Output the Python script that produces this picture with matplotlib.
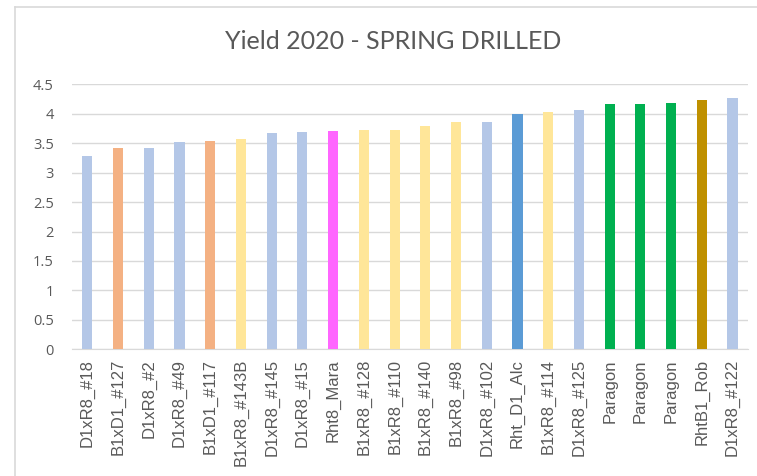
import matplotlib.pyplot as plt
from matplotlib.lines import Line2D

# lines and bar colours
lines = ["D1xR8_#18", "B1xD1_#127", "D1xR8_#2", "D1xR8_#49", "B1xD1_#117",
         "B1xR8_#143B", "D1xR8_#145", "D1xR8_#15", "Rht8_Mara", "B1xR8_#128",
         "B1xR8_#110", "B1xR8_#140", "B1xR8_#98", "D1xR8_#102", "Rht_D1_Alc",
         "B1xR8_#114", "D1xR8_#125", "Paragon", "Paragon", "Paragon",
         "RhtB1_Rob", "D1xR8_#122"]
yields = [3.28, 3.42, 3.42, 3.52, 3.54, 3.57, 3.67, 3.69, 3.71, 3.73,
          3.73, 3.79, 3.86, 3.86, 3.99, 4.03, 4.07, 4.16, 4.16, 4.18,
          4.23, 4.27]
groups = ["D1xR8", "B1xD1", "D1xR8", "D1xR8", "B1xD1", "B1xR8", "D1xR8",
          "D1xR8", "Rht8", "B1xR8", "B1xR8", "B1xR8", "B1xR8", "D1xR8",
          "RhtD1", "B1xR8", "D1xR8", "Paragon", "Paragon", "Paragon",
          "RhtB1", "D1xR8"]

palette = {"D1xR8": "#B4C7E7", "B1xD1": "#F4B183", "B1xR8": "#FFE699",
           "Rht8": "#FF66FF", "RhtD1": "#5B9BD5", "Paragon": "#00B050",
           "RhtB1": "#BF9000"}

plt.rcParams['font.family'] = ['Open Sans', 'DejaVu Sans']

fig = plt.figure(figsize=(7.57, 4.76), dpi=100)
ax = fig.add_axes([0.0951, 0.2662, 0.8929, 0.5567])

x = list(range(len(lines)))
ax.bar(x, yields, width=0.33, color=[palette[g] for g in groups], zorder=3)

ax.set_ylim(0, 4.5)
ax.set_xlim(-0.5, len(lines) - 0.5)
ax.set_yticks([0, 0.5, 1, 1.5, 2, 2.5, 3, 3.5, 4, 4.5])
ax.set_yticklabels(["0", "0.5", "1", "1.5", "2", "2.5", "3", "3.5", "4", "4.5"])
ax.set_xticks(x)
ax.set_xticklabels(lines, rotation=90, family='Liberation Sans', fontsize=12)
ax.tick_params(axis='both', length=0, colors='#595959')
ax.tick_params(axis='y', pad=13, labelsize=10.5)
ax.tick_params(axis='x', pad=7)

ax.grid(axis='y', color='#D9D9D9', linewidth=1, zorder=0)
for s in ['top', 'right', 'left']:
    ax.spines[s].set_visible(False)
ax.spines['bottom'].set_color('#D9D9D9')

fig.text(0.52, 0.913, "Yield 2020 - SPRING DRILLED", ha='center', va='center',
         fontsize=18, color='#595959', family='Lato')

# chart frame
fig.add_artist(Line2D([15 / 757, 15 / 757], [0, 1 - 7 / 476], color='#D9D9D9', lw=1.2))
fig.add_artist(Line2D([15 / 757, 1], [1 - 7 / 476, 1 - 7 / 476], color='#D9D9D9', lw=1.2))

fig.savefig("out.png", dpi=100)
